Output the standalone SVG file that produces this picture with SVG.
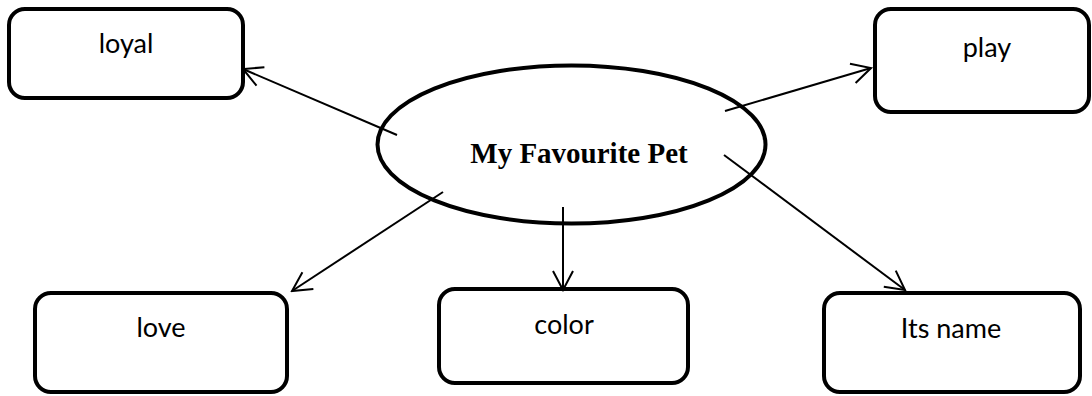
<svg xmlns="http://www.w3.org/2000/svg" width="1092" height="396" viewBox="0 0 1092 396">
<style>
.box{fill:#fff;stroke:#000;stroke-width:4}
.lbl{font-family:Lato,"Liberation Sans",sans-serif;font-size:27px;fill:#000;text-anchor:middle}
.title{font-family:"Liberation Serif","Times New Roman",serif;font-weight:bold;font-size:29px;fill:#000;text-anchor:middle}
.conn{stroke:#000;stroke-width:2;fill:none;marker-end:url(#arr)}
</style>
<defs>
<marker id="arr" markerUnits="userSpaceOnUse" viewBox="-22 -12 24 24" markerWidth="24" markerHeight="24" refX="0" refY="0" orient="auto">
<path d="M-19,-10 L0,0 L-19,10" fill="none" stroke="#000" stroke-width="2"/>
</marker>
</defs>
<rect width="1092" height="396" fill="#fff"/>
<g id="center">
<ellipse cx="571.5" cy="144.5" rx="194" ry="79" fill="#fff" stroke="#000" stroke-width="4"/>
<text class="title" x="579" y="163">My Favourite Pet</text>
</g>
<g id="loyal">
<rect class="box" x="9" y="9" width="234" height="89" rx="16"/>
<text class="lbl" x="126" y="53">loyal</text>
</g>
<g id="play">
<rect class="box" x="875" y="9" width="214" height="103" rx="16"/>
<text class="lbl" x="987" y="57">play</text>
</g>
<g id="love">
<rect class="box" x="35" y="293" width="252" height="99" rx="16"/>
<text class="lbl" x="161" y="337">love</text>
</g>
<g id="color">
<rect class="box" x="439" y="289" width="249" height="94" rx="16"/>
<text class="lbl" x="564" y="334">color</text>
</g>
<g id="itsname">
<rect class="box" x="824" y="293" width="256" height="99" rx="16"/>
<text class="lbl" x="951" y="338">Its name</text>
</g>
<g id="connectors">
<line class="conn" x1="397" y1="135" x2="243" y2="69"/>
<line class="conn" x1="725" y1="111" x2="871" y2="68"/>
<line class="conn" x1="443" y1="192" x2="292" y2="291"/>
<line class="conn" x1="563" y1="207" x2="563" y2="290"/>
<line class="conn" x1="724" y1="155" x2="905" y2="290"/>
</g>
</svg>
